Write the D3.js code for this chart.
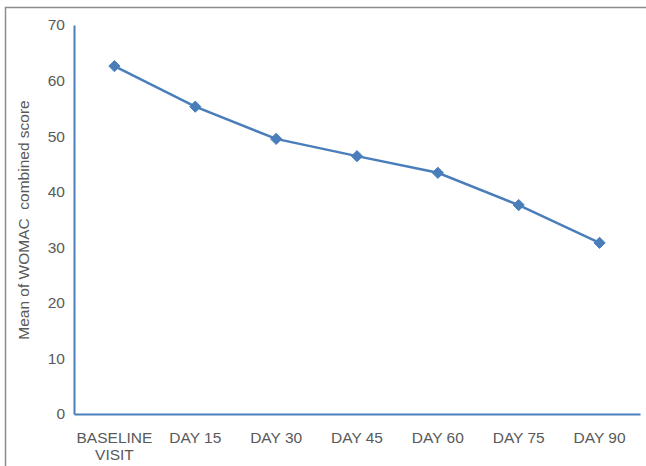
<!DOCTYPE html>
<html>
<head>
<meta charset="utf-8">
<script src="https://cdn.jsdelivr.net/npm/d3@7"></script>
<style>
  html, body { margin: 0; padding: 0; background: #fff; }
  svg { display: block; font-family: "Liberation Sans", Arial, sans-serif; }
</style>
</head>
<body>
<svg id="chart" width="646" height="466"></svg>
<script>
// Visit labels (multi-line where needed) and mean WOMAC scores
const visits = ["BASELINE\nVISIT", "DAY 15", "DAY 30", "DAY 45", "DAY 60", "DAY 75", "DAY 90"];
const meanScores = [62.6, 55.3, 49.5, 46.4, 43.4, 37.6, 30.8];
const yTicks = [0, 10, 20, 30, 40, 50, 60, 70];
const yTitle = "Mean of WOMAC  combined score";

const svg = d3.select("#chart");
const blue = "#4a7ebb";
const textGray = "#595959";
const fontSize = 15.5;

// Outer frame (top and left edges)
svg.append("path")
  .attr("d", "M5.5,466 L5.5,7.5 L646,7.5")
  .attr("fill", "none")
  .attr("stroke", "#8c8c8c")
  .attr("stroke-width", 1.5);

const x = d3.scaleBand().domain(visits).range([74, 640]);
const y = d3.scaleLinear().domain([0, 70]).range([414, 25]);

// Y axis
const yAxis = svg.append("g").attr("transform", "translate(74,0)")
  .call(d3.axisLeft(y).tickValues(yTicks).tickSize(0).tickPadding(9));
yAxis.select(".domain").attr("stroke", blue).attr("stroke-width", 2);
yAxis.selectAll("text").attr("fill", textGray).attr("font-size", fontSize)
  .attr("font-family", "Liberation Sans, Arial, sans-serif");

// X axis
const xAxis = svg.append("g").attr("transform", "translate(0,414)")
  .call(d3.axisBottom(x).tickSize(0).tickPadding(0));
xAxis.select(".domain").attr("stroke", blue).attr("stroke-width", 2);
xAxis.selectAll("text").remove();
xAxis.selectAll(".tick").each(function(d) {
  const t = d3.select(this).append("text")
    .attr("fill", textGray)
    .attr("font-size", fontSize)
    .attr("font-family", "Liberation Sans, Arial, sans-serif")
    .attr("text-anchor", "middle");
  d.split("\n").forEach((line, i) => {
    t.append("tspan").attr("x", 0).attr("y", 29 + i * 17).text(line);
  });
});

// Y axis title
svg.append("text")
  .attr("transform", "translate(29,220) rotate(-90)")
  .attr("text-anchor", "middle")
  .attr("fill", textGray)
  .attr("font-size", fontSize)
  .style("white-space", "pre")
  .text(yTitle);

// Series line
const pts = visits.map((v, i) => [x(v) + x.bandwidth() / 2, y(meanScores[i])]);
svg.append("path")
  .attr("d", d3.line()(pts))
  .attr("fill", "none")
  .attr("stroke", blue)
  .attr("stroke-width", 2.5);

// Diamond markers
svg.selectAll(".marker").data(pts).join("path")
  .attr("class", "marker")
  .attr("transform", d => `translate(${d[0]},${d[1]})`)
  .attr("d", d3.symbol(d3.symbolDiamond2, 80)())
  .attr("fill", blue)
  .attr("stroke", blue)
  .attr("stroke-width", 1);
</script>
</body>
</html>
